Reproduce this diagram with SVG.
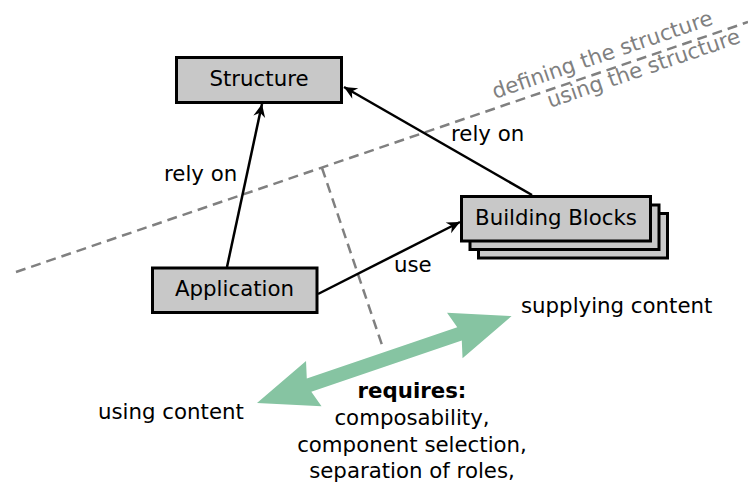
<svg xmlns="http://www.w3.org/2000/svg" width="748" height="483" viewBox="0 0 748 483">
  <style>
    text { font-family: "DejaVu Sans", "Liberation Sans", sans-serif; font-size: 21.3px; fill: #000; }
    .box { fill: #c8c8c8; stroke: #000; stroke-width: 3; }
    .edge { fill: none; stroke: #000; stroke-width: 2.5; marker-end: url(#head); }
    .divider { fill: none; stroke: #808080; stroke-width: 2.5; stroke-dasharray: 10 6; }
    .zone { fill: #808080; }
    .mid { text-anchor: middle; }
  </style>
  <defs>
    <marker id="head" markerUnits="userSpaceOnUse" markerWidth="16" markerHeight="14" refX="14" refY="7" orient="auto">
      <path d="M14 7 L1 1 L5 7 L1 13 Z" fill="#000"/>
    </marker>
  </defs>

  <!-- boundary between defining and using the structure -->
  <g id="boundary">
    <line class="divider" x1="16" y1="272" x2="748" y2="22"/>
    <line class="divider" x1="322" y1="168" x2="382" y2="345"/>
    <text class="zone" transform="translate(495,99) rotate(-18.9)">defining the structure</text>
    <text class="zone" transform="translate(550,108) rotate(-18.9)">using the structure</text>
  </g>

  <!-- content exchange -->
  <g id="content-flow">
    <polygon fill="#86c4a2" transform="translate(257,403) rotate(-18.85)"
      points="0,0 60,-24 55,-7 214,-7 209,-24 269,0 209,24 214,7 55,7 60,24"/>
    <text x="98" y="419">using content</text>
    <text x="521" y="313">supplying content</text>
    <text class="mid" x="412" y="398" font-weight="bold">requires:</text>
    <text class="mid" x="412" y="425">composability,</text>
    <text class="mid" x="412" y="451.5">component selection,</text>
    <text class="mid" x="412" y="478">separation of roles,</text>
  </g>

  <!-- connectors -->
  <g id="connectors">
    <line class="edge" x1="227" y1="267" x2="262" y2="104"/>
    <line class="edge" x1="532" y1="195" x2="344" y2="87"/>
    <line class="edge" x1="318" y1="294" x2="460" y2="222"/>
    <text x="164" y="181">rely on</text>
    <text x="451" y="141">rely on</text>
    <text x="394" y="272">use</text>
  </g>

  <g id="structure">
    <rect class="box" x="176.5" y="57.5" width="165" height="45"/>
    <text class="mid" x="259" y="86">Structure</text>
  </g>

  <g id="application">
    <rect class="box" x="152.5" y="268" width="164.5" height="44.5"/>
    <text class="mid" x="234.5" y="296">Application</text>
  </g>

  <g id="building-blocks">
    <rect class="box" x="478.5" y="213.5" width="189" height="44.5"/>
    <rect class="box" x="470" y="205" width="189" height="44.5"/>
    <rect class="box" x="461.5" y="196.5" width="189" height="44.5"/>
    <text class="mid" x="556" y="225">Building Blocks</text>
  </g>
</svg>
